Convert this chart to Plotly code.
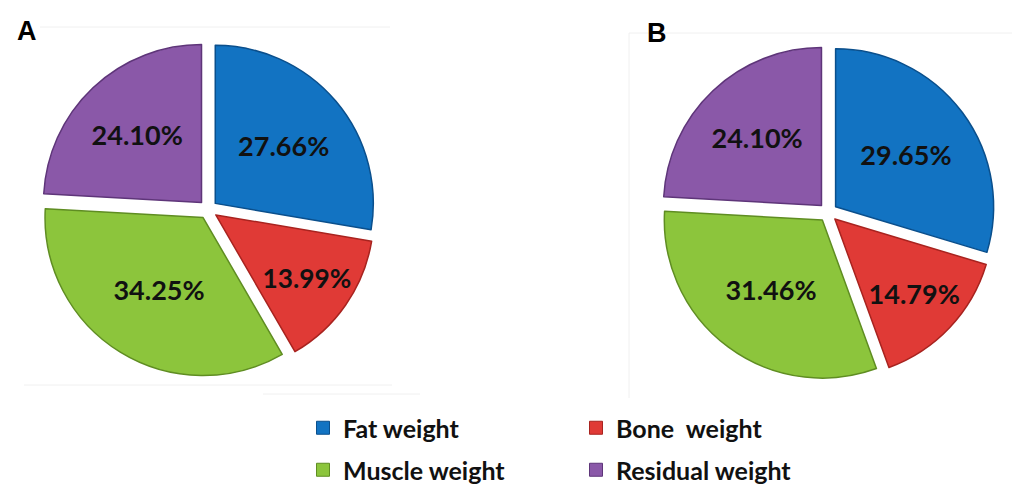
import plotly.graph_objects as go

# Body-composition shares (%) for the two groups
categories = ["Fat weight", "Bone  weight", "Muscle weight", "Residual weight"]
values_a = [27.66, 13.99, 34.25, 24.10]
values_b = [29.65, 14.79, 31.46, 24.10]
panel_labels = ["A", "B"]

fill_colors = ["#1273c2", "#e03a36", "#8cc53c", "#8a58a8"]
edge_colors = ["#0a4f8c", "#a8231f", "#5f8d22", "#5e3579"]

W, H = 1018, 494

fig = go.Figure()

pie_style = dict(
    labels=categories,
    sort=False,
    direction="clockwise",
    rotation=0,
    pull=[0.06] * 4,
    marker=dict(colors=fill_colors, line=dict(color=edge_colors, width=1.5)),
    texttemplate="%{value:.2f}%",
    textposition="inside",
    insidetextorientation="horizontal",
    textfont=dict(family="Lato, 'Open Sans', sans-serif", size=27, color="#111111", weight="bold"),
    hoverinfo="label+value",
    showlegend=False,
)

fig.add_trace(go.Pie(values=values_a, domain=dict(x=[0.0398, 0.3689], y=[0.2368, 0.915]), **pie_style))
fig.add_trace(go.Pie(values=values_b, domain=dict(x=[0.6488, 0.9779], y=[0.2308, 0.9089]), **pie_style))

# Legend entries: two rows of two, each row in its own legend
for i, (name, col) in enumerate(zip(categories, fill_colors)):
    fig.add_trace(go.Scatter(
        x=[None], y=[None], mode="markers", name=name,
        marker=dict(symbol="square", size=13, color=col, line=dict(color=edge_colors[i], width=1)),
        legend="legend" if i < 2 else "legend2",
        showlegend=True,
    ))

legend_common = dict(
    orientation="h",
    xref="paper", yref="paper",
    xanchor="left", yanchor="middle",
    entrywidth=228, entrywidthmode="pixels",
    bgcolor="rgba(0,0,0,0)",
    font=dict(family="Lato, 'Open Sans', sans-serif", size=25, color="#111111", weight="bold"),
    itemclick=False, itemdoubleclick=False,
)

# faint chart-area frames
frame = dict(type="line", xref="paper", yref="paper", line=dict(color="#f0f0f0", width=1))
shapes = [
    dict(frame, x0=40 / W, x1=390 / W, y0=1 - 27 / H, y1=1 - 27 / H),
    dict(frame, x0=24 / W, x1=392 / W, y0=1 - 385 / H, y1=1 - 385 / H),
    dict(frame, x0=263 / W, x1=420 / W, y0=1 - 394 / H, y1=1 - 394 / H),
    dict(frame, x0=629 / W, x1=629 / W, y0=1 - 33 / H, y1=1 - 398 / H),
    dict(frame, x0=629 / W, x1=1012 / W, y0=1 - 33 / H, y1=1 - 33 / H),
]

label_font = dict(family="Liberation Sans, Arial, sans-serif", size=27, color="#000000")
annotations = [
    dict(text=f"<b>{panel_labels[0]}</b>", x=27 / W, y=1 - 31 / H, xref="paper", yref="paper",
         xanchor="center", yanchor="middle", showarrow=False, font=label_font),
    dict(text=f"<b>{panel_labels[1]}</b>", x=657 / W, y=1 - 33 / H, xref="paper", yref="paper",
         xanchor="center", yanchor="middle", showarrow=False, font=label_font),
]

fig.update_layout(
    width=W, height=H,
    margin=dict(l=0, r=0, t=0, b=0),
    paper_bgcolor="white", plot_bgcolor="white",
    xaxis=dict(visible=False), yaxis=dict(visible=False),
    legend=dict(legend_common, x=303 / W, y=1 - 428 / H),
    legend2=dict(legend_common, x=303 / W, y=1 - 470 / H),
    shapes=shapes,
    annotations=annotations,
)

fig.write_html("out.html")
